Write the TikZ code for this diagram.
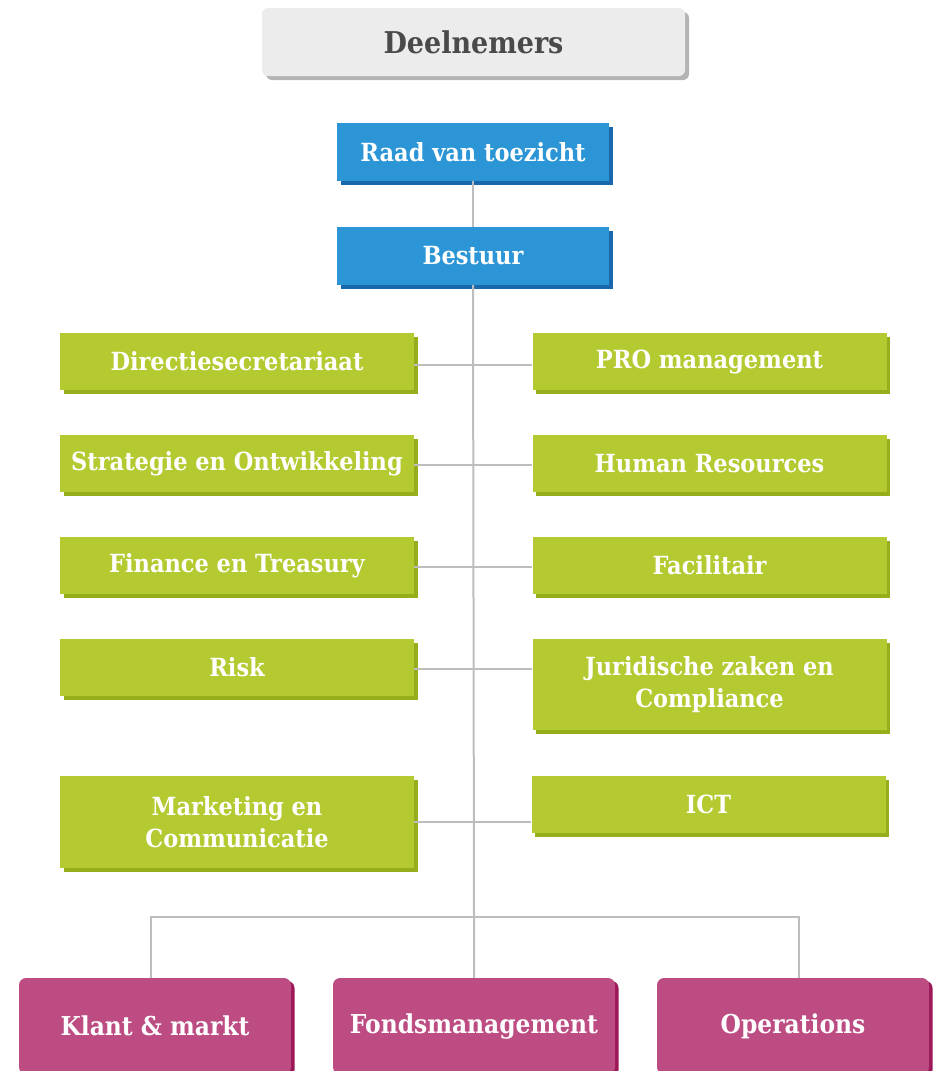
\documentclass[tikz,border=0pt]{standalone}
\usepackage{fontspec}
\newfontfamily\slab{DejaVu Serif Condensed Bold}
\usetikzlibrary{shadows}
\definecolor{linegray}{HTML}{BDBDBD}
\definecolor{blueF}{HTML}{2B95D6}
\definecolor{blueS}{HTML}{1A68AC}
\definecolor{greenF}{HTML}{B5C931}
\definecolor{greenS}{HTML}{96AD1C}
\definecolor{pinkF}{HTML}{BC4C82}
\definecolor{pinkS}{HTML}{9C1858}
\definecolor{grayF}{HTML}{ECECEC}
\definecolor{grayS}{HTML}{B4B4B4}
\definecolor{grayT}{HTML}{4A4A4A}
\tikzset{
  conn/.style={draw=linegray, line width=2pt},
  box/.style={rectangle, inner sep=0pt, text=white, align=center,
    font=\slab\fontsize{25}{32}\selectfont},
  bluebox/.style={box, fill=blueF, minimum width=272pt, minimum height=58pt,
    drop shadow={shadow xshift=4pt, shadow yshift=-4pt, fill=blueS, opacity=1}},
  greenbox/.style={box, fill=greenF, minimum width=354pt, minimum height=57pt,
    drop shadow={shadow xshift=3.5pt, shadow yshift=-3.5pt, fill=greenS, opacity=1}},
  pinkbox/.style={box, fill=pinkF, rounded corners=7pt, minimum height=96pt,
    font=\slab\fontsize{26}{32}\selectfont,
    drop shadow={shadow xshift=3.5pt, shadow yshift=-3pt, fill=pinkS, opacity=1}},
  topbox/.style={box, fill=grayF, text=grayT, rounded corners=6pt,
    minimum width=423pt, minimum height=68pt, font=\slab\fontsize{30}{34}\selectfont,
    drop shadow={shadow xshift=4pt, shadow yshift=-4pt, fill=grayS, opacity=1}},
}
\begin{document}
\begin{tikzpicture}[x=1pt, y=-1pt]
\useasboundingbox (0,0) rectangle (934,1071);
\clip (0,0) rectangle (934,1071);
\node[topbox] (top) at (473.5,42) {Deelnemers};
\node[bluebox] (raad) at (473,152) {Raad van toezicht};
\node[bluebox] (bestuur) at (473,256) {Bestuur};

\node[greenbox] (l1) at (237,361.5) {Directiesecretariaat};
\node[greenbox] (r1) at (709.5,361.5) {PRO management};
\node[greenbox] (l2) at (237,463.5) {Strategie en Ontwikkeling};
\node[greenbox] (r2) at (709.5,463.5) {Human Resources};
\node[greenbox] (l3) at (237,565.5) {Finance en Treasury};
\node[greenbox] (r3) at (709.5,565.5) {Facilitair};
\node[greenbox] (l4) at (237,667.5) {Risk};
\node[greenbox, minimum height=91pt] (r4) at (709.5,684.5) {Juridische zaken en\\Compliance};
\node[greenbox, minimum height=92pt] (l5) at (237,822) {Marketing en\\Communicatie};
\node[greenbox] (r5) at (708.5,804.5) {ICT};

\node[pinkbox, minimum width=272pt] (klant) at (155,1026) {Klant \& markt};
\node[pinkbox, minimum width=282pt] (fonds) at (474,1026) {Fondsmanagement};
\node[pinkbox, minimum width=272pt] (ops) at (793,1026) {Operations};

\coordinate (bj) at (474,917);
\draw[conn] (raad.south) -- (bestuur.north);
\draw[conn] (bestuur.south) -- (bj) -- (fonds.north);
\draw[conn] ([xshift=-4pt]klant.north) |- (bj) -| ([xshift=6pt]ops.north);
\draw[conn] ([yshift=-3pt]l1.east) -- ([yshift=-3pt]l1.east -| r1.west);
\draw[conn] ([yshift=-1.5pt]l2.east) -- ([yshift=-1.5pt]l2.east -| r2.west);
\draw[conn] ([yshift=-1.5pt]l3.east) -- ([yshift=-1.5pt]l3.east -| r3.west);
\draw[conn] ([yshift=-1.5pt]l4.east) -- ([yshift=-1.5pt]l4.east -| r4.west);
\draw[conn] (l5.east) -- (l5.east -| r5.west);
\end{tikzpicture}
\end{document}
